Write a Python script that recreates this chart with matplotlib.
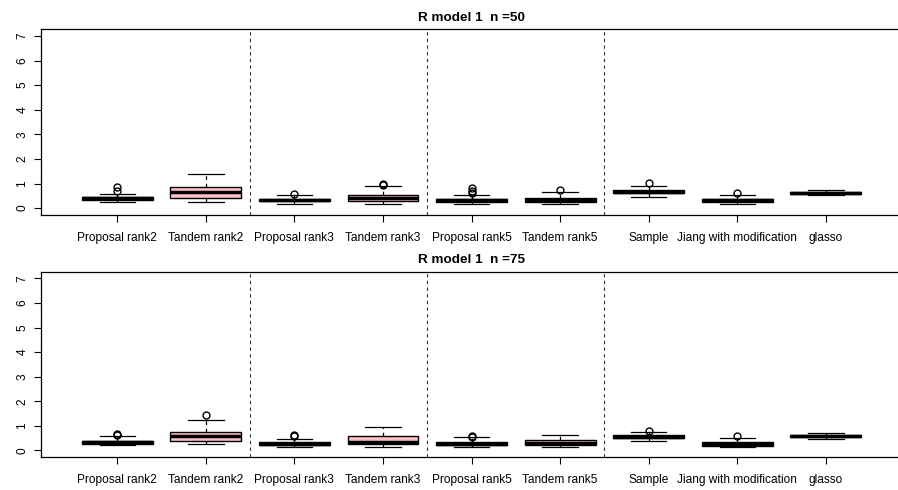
import numpy as np
import matplotlib
matplotlib.use('Agg')
import matplotlib.pyplot as plt

plt.rcParams['font.family'] = ['Liberation Sans', 'DejaVu Sans']

metodos = ['Proposal rank2', 'Tandem rank2', 'Proposal rank3', 'Tandem rank3',
           'Proposal rank5', 'Tandem rank5', 'Sample', 'Jiang with modification', 'glasso']
cores = ['lightblue', 'pink', 'lightblue', 'pink', 'lightblue', 'pink', 'white', 'white', 'white']
titulos = ['R model 1  n =50', 'R model 1  n =75']

# n = 50
q1_50 = [0.35, 0.43, 0.27, 0.27, 0.26, 0.24, 0.61, 0.24, 0.57]
med_50 = [0.40, 0.65, 0.32, 0.41, 0.31, 0.33, 0.67, 0.31, 0.61]
q3_50 = [0.47, 0.85, 0.38, 0.54, 0.37, 0.42, 0.72, 0.38, 0.64]
wlo_50 = [0.24, 0.23, 0.18, 0.18, 0.18, 0.18, 0.46, 0.18, 0.52]
whi_50 = [0.56, 1.40, 0.54, 0.90, 0.54, 0.66, 0.91, 0.52, 0.72]
out_50 = [[0.68, 0.84], [], [0.58], [0.93, 0.98], [0.62, 0.70, 0.80], [0.72], [1.03], [0.61], []]

# n = 75
q1_75 = [0.28, 0.38, 0.22, 0.26, 0.22, 0.22, 0.49, 0.20, 0.53]
med_75 = [0.33, 0.57, 0.27, 0.34, 0.27, 0.30, 0.55, 0.26, 0.59]
q3_75 = [0.39, 0.77, 0.33, 0.58, 0.33, 0.41, 0.62, 0.34, 0.64]
wlo_75 = [0.22, 0.26, 0.16, 0.16, 0.15, 0.15, 0.38, 0.12, 0.48]
whi_75 = [0.57, 1.22, 0.48, 0.94, 0.53, 0.64, 0.75, 0.50, 0.71]
out_75 = [[0.62, 0.65], [1.45], [0.58, 0.63], [], [0.56, 0.60], [], [0.80], [0.57], []]

dados = [(q1_50, med_50, q3_50, wlo_50, whi_50, out_50),
         (q1_75, med_75, q3_75, wlo_75, whi_75, out_75)]

fig = plt.figure(figsize=(8.98, 4.90), dpi=100)
posicoes_ax = [[0.0457, 0.5612, 0.9588, 0.3796], [0.0457, 0.0667, 0.9588, 0.3790]]

for k in range(2):
    ax = fig.add_axes(posicoes_ax[k])
    q1, med, q3, wlo, whi, out = dados[k]
    stats = []
    for i in range(len(metodos)):
        stats.append(dict(q1=q1[i], med=med[i], q3=q3[i], whislo=wlo[i], whishi=whi[i],
                          fliers=out[i], label=metodos[i]))
    bp = ax.bxp(stats, positions=np.arange(1, 10), widths=0.8, patch_artist=True,
                showfliers=True,
                boxprops=dict(edgecolor='black', linewidth=1.0),
                medianprops=dict(color='black', linewidth=2.5, solid_capstyle='butt'),
                whiskerprops=dict(color='black', linewidth=0.9, linestyle=(0, (3, 3))),
                capprops=dict(color='black', linewidth=0.9),
                capwidths=0.4,
                flierprops=dict(marker='o', markerfacecolor='none', markeredgecolor='black',
                                markersize=5, markeredgewidth=1.0))
    for patch, c in zip(bp['boxes'], cores):
        patch.set_facecolor(c)

    # separadores entre grupos
    for xv in [2.5, 4.5, 6.5]:
        ax.axvline(xv, color='#333333', linestyle=(0, (3, 3)), linewidth=0.8)

    ax.set_xlim(0.14, 9.86)
    ax.set_ylim(-0.28, 7.28)
    ax.set_yticks(range(0, 8))
    ax.set_yticklabels([str(v) for v in range(0, 8)], rotation=90, va='center')
    ax.set_xticks(np.arange(1, 10))
    ax.set_xticklabels(metodos)
    ax.tick_params(axis='both', direction='out', length=5, width=0.8, labelsize=8.6, colors='black')
    ax.tick_params(axis='x', pad=7)
    ax.tick_params(axis='y', pad=4)
    for s in ax.spines.values():
        s.set_linewidth(0.9)
    ax.set_title(titulos[k], fontsize=9.7, fontweight='bold', pad=6)

fig.savefig('out.png', dpi=100)
